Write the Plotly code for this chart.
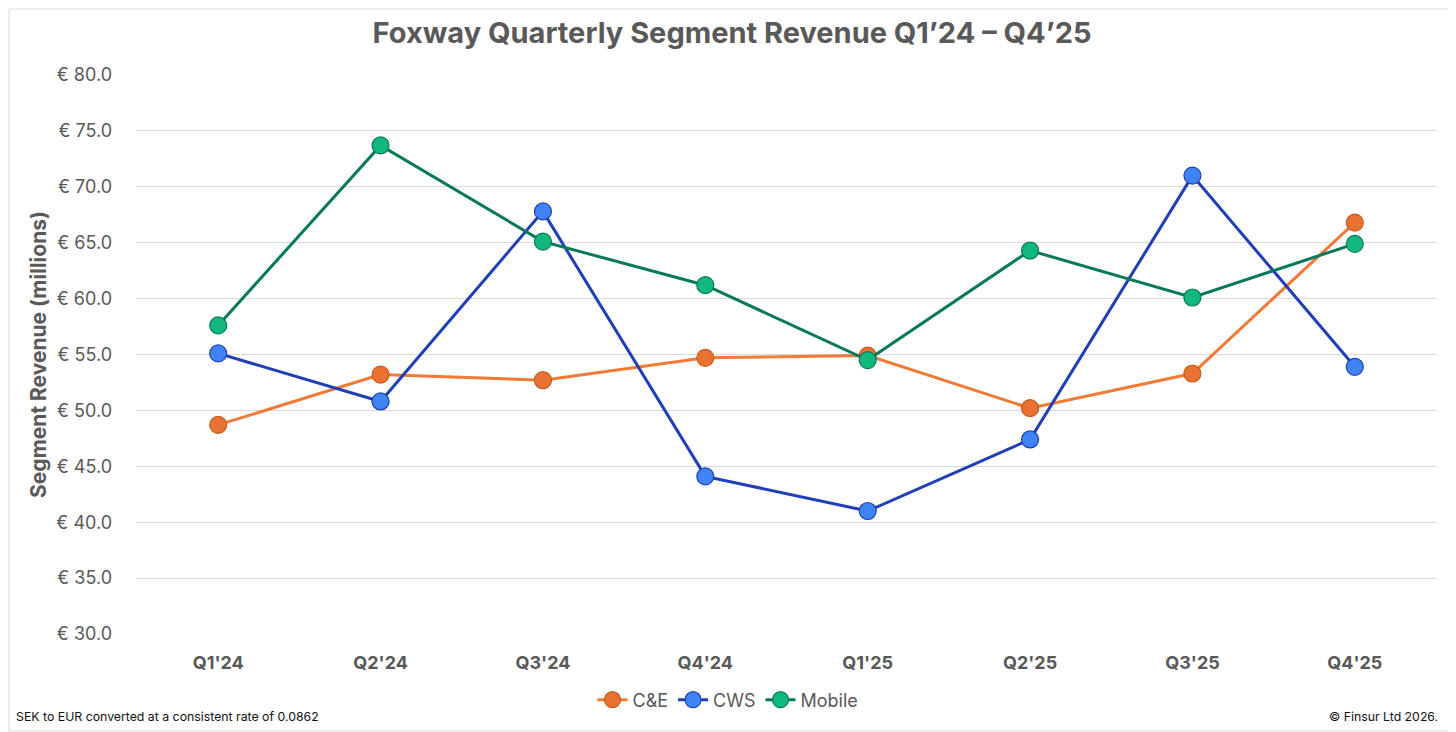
import plotly.graph_objects as go

quarters = ["Q1'24", "Q2'24", "Q3'24", "Q4'24", "Q1'25", "Q2'25", "Q3'25", "Q4'25"]
ce = [48.7, 53.2, 52.7, 54.7, 54.9, 50.2, 53.3, 66.8]
cws = [55.1, 50.8, 67.8, 44.1, 41.0, 47.4, 71.0, 53.9]
mobile = [57.6, 73.7, 65.1, 61.2, 54.5, 64.3, 60.1, 64.9]
y_ticks = [30, 35, 40, 45, 50, 55, 60, 65, 70, 75, 80]

# page has an 8px body margin, so the figure is drawn 8px smaller
W, H = 1448, 724
L, R, T, B = 129, 20, 67, 98
pw, ph = W - L - R, H - T - B

font = "Inter, Open Sans, Liberation Sans, sans-serif"
grey = "#595959"

series = [
    ("C&E", ce, "#F07A36", "#E97132", "#C55A1E"),
    ("CWS", cws, "#1E3FB5", "#3F83F4", "#1E3FB5"),
    ("Mobile", mobile, "#07785A", "#11B87E", "#07785A"),
]

fig = go.Figure()
for name, vals, lc, fc, oc in series:
    fig.add_trace(go.Scatter(
        x=quarters, y=vals, name=name, mode="lines+markers",
        line=dict(color=lc, width=3),
        marker=dict(size=17, color=fc, line=dict(color=oc, width=1.2)),
    ))

fig.update_layout(
    width=W, height=H,
    margin=dict(l=L, r=R, t=T, b=B),
    paper_bgcolor="white", plot_bgcolor="white",
    font=dict(family=font, color=grey, size=18),
    title=dict(text="<b>Foxway Quarterly Segment Revenue Q1\u201924 \u2013 Q4\u201925</b>",
               x=0.5, xanchor="center", y=1 - 25 / H, yanchor="middle",
               font=dict(size=29, color=grey, family=font)),
    showlegend=True,
    # legend is centred on the whole chart, not the plot area
    legend=dict(orientation="h", x=(W / 2 - 4 - L) / pw, xanchor="center", y=-66 / ph, yanchor="middle",
                font=dict(size=18, color=grey), traceorder="normal"),
    hovermode=False,
)
fig.update_xaxes(
    type="category", range=[-0.5, 7.5], showgrid=False, showline=False, ticks="",
    tickfont=dict(size=18, color=grey, family=font), ticklabelstandoff=16,
    tickprefix="<b>", ticksuffix="</b>",
)
fig.update_yaxes(
    range=[30, 80], tickvals=y_ticks, ticktext=[f"\u20ac {v:.1f}" for v in y_ticks],
    showgrid=True, gridcolor="#D9D9D9", gridwidth=1, zeroline=False, showline=False,
    tickfont=dict(size=18, color=grey, family=font), ticklabelstandoff=24,
    title=dict(text="<b>Segment Revenue (millions)</b>", font=dict(size=21, color=grey), standoff=3),
)

fig.add_annotation(text="SEK to EUR converted at a consistent rate of 0.0862",
                   xref="paper", yref="paper", x=-(L - 6) / pw, y=-(708 - T - ph) / ph,
                   xanchor="left", yanchor="middle", showarrow=False,
                   font=dict(size=12.3, color="#111111"))
fig.add_annotation(text="\u00a9 Finsur Ltd 2026.",
                   xref="paper", yref="paper", x=1 + (R - 16) / pw, y=-(708 - T - ph) / ph,
                   xanchor="right", yanchor="middle", showarrow=False,
                   font=dict(size=12.3, color="#111111"))
fig.add_shape(type="rect", xref="paper", yref="paper",
              x0=-(L - 1) / pw, x1=1 + (R - 1) / pw, y0=-(B - 1) / ph, y1=1 + (T - 1) / ph,
              line=dict(color="#D9D9D9", width=1), layer="below")

fig.write_html("out.html")
